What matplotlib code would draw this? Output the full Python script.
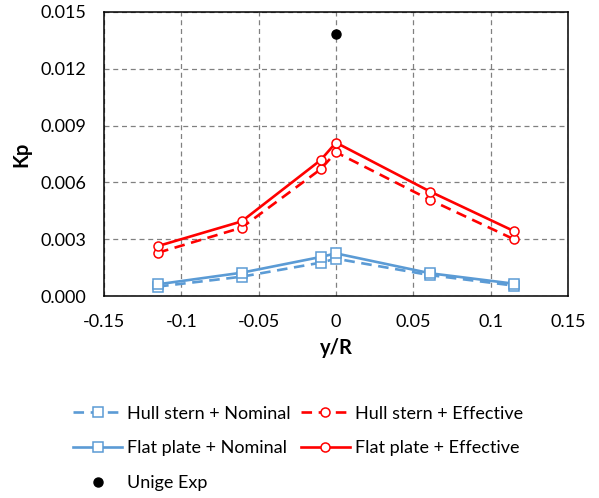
import matplotlib
matplotlib.use("Agg")
import matplotlib.pyplot as plt

plt.rcParams['font.family'] = ['Lato', 'DejaVu Sans']

y_r = [-0.115, -0.061, -0.01, 0.0, 0.061, 0.115]
hull_nominal = [0.0005, 0.00102, 0.00176, 0.00197, 0.0011, 0.00055]
flat_nominal = [0.00062, 0.00123, 0.00206, 0.00225, 0.0012, 0.00065]
hull_effective = [0.00229, 0.00361, 0.00669, 0.00759, 0.00507, 0.0030]
flat_effective = [0.00264, 0.00394, 0.00717, 0.0081, 0.00551, 0.00343]
exp_y = [0.0]
exp_kp = [0.01382]

xticks = [-0.15, -0.1, -0.05, 0, 0.05, 0.1, 0.15]
xticklabels = ['-0.15', '-0.1', '-0.05', '0', '0.05', '0.1', '0.15']
yticks = [0.0, 0.003, 0.006, 0.009, 0.012, 0.015]
yticklabels = ['0.000', '0.003', '0.006', '0.009', '0.012', '0.015']

blue = '#5B9BD5'
red = '#FF0000'

fig = plt.figure(figsize=(5.99, 4.98), dpi=100)
ax = fig.add_axes([0.1736, 0.4056, 0.7746, 0.5704])

common = dict(lw=1.9, markersize=6.5, markerfacecolor='white', markeredgewidth=1.1)
ax.plot(y_r, hull_nominal, ls=(0, (4, 2.5)), color=blue, marker='s',
        label='Hull stern + Nominal', **common)
ax.plot(y_r, flat_nominal, ls='-', color=blue, marker='s',
        label='Flat plate + Nominal', **common)
ax.plot(exp_y, exp_kp, ls='none', color='black', marker='o', markersize=6.5,
        label='Unige Exp')
ax.plot(y_r, hull_effective, ls=(0, (4, 2.5)), color=red, marker='o',
        label='Hull stern + Effective', **common)
ax.plot(y_r, flat_effective, ls='-', color=red, marker='o',
        label='Flat plate + Effective', **common)

ax.set_xlim(-0.15, 0.15)
ax.set_ylim(0, 0.015)
ax.set_xticks(xticks)
ax.set_xticklabels(xticklabels, fontsize=13)
ax.set_yticks(yticks)
ax.set_yticklabels(yticklabels, fontsize=13)
ax.tick_params(length=0, pad=13)
ax.grid(True, ls=(0, (4, 3)), color='#808080', lw=0.9)
ax.set_axisbelow(True)
for s in ax.spines.values():
    s.set_linewidth(1.1)
    s.set_color('black')

ax.set_xlabel('y/R', fontsize=14.5, fontweight='bold', labelpad=6)
ax.set_ylabel('Kp', fontsize=14.5, fontweight='bold', labelpad=6)

fig.legend(loc='upper left', bbox_to_anchor=(0.095, 0.218), ncol=2,
           frameon=False, fontsize=13, handlelength=2.7, handletextpad=0.3,
           columnspacing=0.55, labelspacing=1.04)

fig.savefig('out.png', dpi=100)
